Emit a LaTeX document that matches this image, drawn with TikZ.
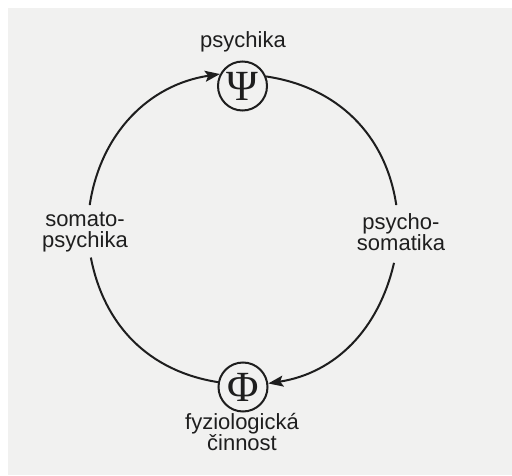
\documentclass[tikz,border=0pt]{standalone}
\usepackage{fontspec}
\setmainfont{Liberation Sans}
\newfontfamily\grkfont{Liberation Serif}
\usetikzlibrary{arrows.meta,calc}
\definecolor{paper}{RGB}{241,241,240}
\definecolor{ink}{RGB}{30,30,30}
\tikzset{
  lbl/.style={font=\fontsize{22}{21.5}\selectfont, text=ink, align=center, inner sep=0pt},
  sym/.style={circle, draw=ink, line width=2pt, minimum size=49pt, inner sep=0pt,
              font=\grkfont\fontsize{43}{43}\selectfont, text=ink},
  conn/.style={draw=ink, line width=2pt},
  arr/.style={conn, -{Stealth[length=15pt,width=11pt,inset=3pt]}}
}
\begin{document}
\begin{tikzpicture}[x=1pt,y=1pt]
\useasboundingbox (0,0) rectangle (512,475);
\fill[white] (0,0) rectangle (512,475);
\fill[paper] (8,0) rectangle (512,467);
\coordinate (C) at (243,247);
\node[sym] (psi) at (242.5,389) {Ψ};
\node[sym] (phi) at (243,88) {Φ};
\node[lbl, anchor=base] (tpsy) at (243,427) {psychika};
\node[lbl] (soma) at (85,243) {somato-\\psychika};
\node[lbl] (psso) at (401,243) {psycho-\\somatika};
\node[lbl] (fyz) at (242,43) {fyziologická\\činnost};
\coordinate (L1) at ($(C)+(171.5:155)$);
\coordinate (L2) at ($(C)+(191:155)$);
\coordinate (R1) at ($(C)+(8.5:155)$);
\coordinate (R2) at ($(C)+(-13:155)$);
\draw[arr] (L1) to[out=81.5,in=188.5] (psi.152);
\draw[conn] (psi.22) to[out=-8.4,in=98.5] (R1);
\draw[arr] (R2) to[out=-103,in=8.9] (phi.8);
\draw[conn] (phi.169) to[out=171,in=-79] (L2);
\end{tikzpicture}
\end{document}
